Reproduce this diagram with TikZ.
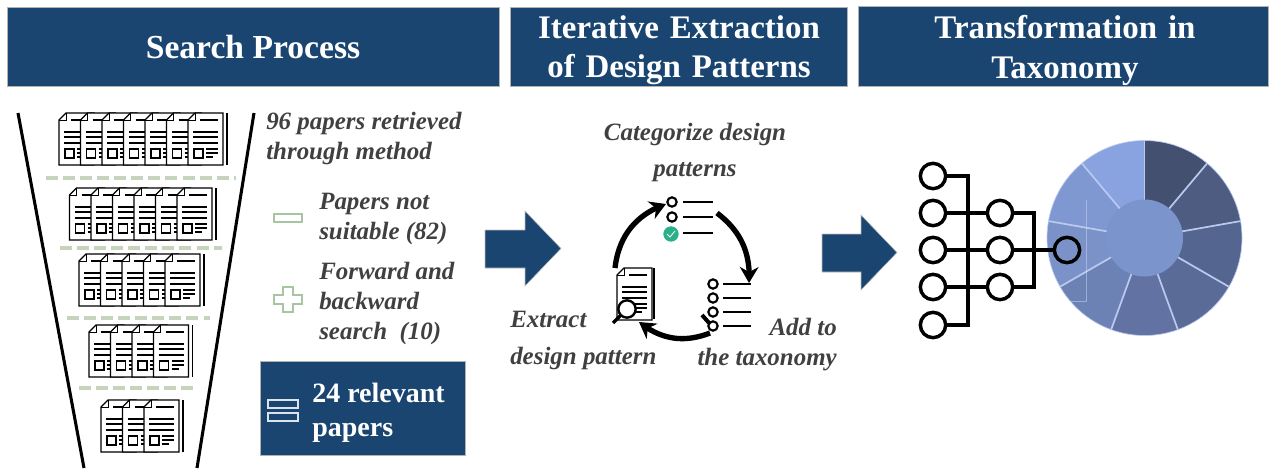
\documentclass[tikz,border=0pt]{standalone}
\usepackage{fontspec}
\setmainfont{Liberation Serif}
\usetikzlibrary{arrows.meta,bending}
\definecolor{hdr}{HTML}{1A4570}
\definecolor{txt}{HTML}{404040}
\definecolor{dashg}{HTML}{C5D5BC}
\definecolor{icong}{HTML}{A9C4A0}
\definecolor{sep}{HTML}{B9C9EF}
\definecolor{okg}{HTML}{2BAE8A}
\definecolor{hub}{HTML}{7B94CC}
\tikzset{
 x=0.75pt,y=-0.75pt,
 hdrbox/.style={fill=hdr,draw=gray!60,line width=0.5pt},
 hdrtext/.style={text=white,font=\bfseries\fontsize{24.7}{29.5}\selectfont,align=center,inner sep=0pt},
 lbl/.style={text=txt,font=\bfseries\itshape\fontsize{18.7}{22.5}\selectfont,align=left,anchor=west,inner sep=0pt},
 funnel/.style={line width=2.3pt},
 gdash/.style={draw=dashg,line width=3pt,dash pattern=on 9pt off 3.8pt},
 ticon/.style={draw=icong,line width=1pt,fill=white},
 bolt/.style={line width=2.6pt},
 ring/.style={circle,draw=black,line width=2.6pt,minimum size=19pt,inner sep=0pt},
 cyc/.style={line width=4pt,-{Stealth[length=12pt,width=14pt,flex]}},
 lst/.style={line width=1.7pt},
 dot/.style={circle,draw=black,line width=1.6pt,fill=white,minimum size=7pt,inner sep=0pt},
 blockarrow/.style={fill=hdr,draw=gray!50,line width=0.4pt},
 paper/.pic={
  \draw[fill=white,line width=1pt] (0,7)--(7,0)--(35,0)--(35,52)--(0,52)--cycle;
  \draw[line width=0.7pt] (7,0)--(7,7)--(0,7);
  \draw[line width=1pt] (12,7)--(30,7) (5,19)--(30,19) (5,24)--(30,24) (5,30)--(30,30)
    (18,36)--(30,36) (18,40)--(30,40) (18,44)--(25,44);
  \draw[line width=1pt] (6,36) rectangle (15,45);
 }
}
\newcommand{\papers}[4]{% x, y, count, name
 \foreach \i in {1,...,#3}{\pic at ({#1+(\i-1)*21.5},#2) {paper};}
 \draw[line width=1pt] ({#1+(#3-1)*21.5+39},#2)--({#1+(#3-1)*21.5+39},{#2+52});
}
\begin{document}
\begin{tikzpicture}
\useasboundingbox (0,0) rectangle (1271,468);
% headers
\path[hdrbox] (7,7) rectangle (499,86);
\path[hdrbox] (510,7) rectangle (847,86);
\path[hdrbox] (858,6) rectangle (1268,86);
\node[hdrtext,font=\bfseries\fontsize{25.2}{30}\selectfont] (h1) at (253,47.5) {Search Process};
\node[hdrtext,text width=330pt] (h2) at (679,50.5) {Iterative Extraction\\of Design Patterns};
\node[hdrtext,text width=300pt] (h3) at (1065,50.5) {Transformation in\\Taxonomy};
% funnel
\coordinate (fl1) at (18,113); \coordinate (fl2) at (84,468);
\coordinate (fr1) at (254,113); \coordinate (fr2) at (197,468);
\draw[funnel] (fl1)--(fl2);
\draw[funnel] (fr1)--(fr2);
% papers
\papers{59}{113}{7}{a}
\papers{69.5}{188}{6}{b}
\papers{79}{254}{5}{c}
\papers{89}{325}{4}{d}
\papers{101}{400}{3}{e}
% dashes
\draw[gdash] (46,178)--(236,178);
\draw[gdash] (60,248)--(222,248);
\draw[gdash] (67,318)--(210,318);
\draw[gdash] (79,388)--(197,388);
% labels
\node[lbl] (t1) at (266,139) {96 papers retrieved\\through method};
\node[lbl] (t2) at (319,218.5) {Papers not\\suitable (82)};
\node[lbl] (t3) at (319,303) {Forward and\\backward\\search~~(10)};
\path[ticon] (274,214) rectangle (302,222);
\path[ticon] (283,287)--(293,287)--(293,295)--(302,295)--(302,304)--(293,304)--(293,312)--(283,312)--(283,304)--(274,304)--(274,295)--(283,295)--cycle;
% result box
\path[fill=hdr,draw=gray!60,line width=0.5pt] (260,361) rectangle (465,455);
\node[text=white,font=\bfseries\fontsize{21}{25.5}\selectfont,align=left,anchor=west,inner sep=0pt] (t4) at (312,412.5) {24 relevant\\papers};
\draw[white!85!hdr,line width=1pt] (268,400) rectangle (298,408) (268,413) rectangle (298,421);
% block arrows
\path[blockarrow] (485,230)--(525,230)--(525,211)--(561,248.5)--(525,286)--(525,268)--(485,268)--cycle;
\path[blockarrow] (822,234)--(861,234)--(861,215)--(897,252.5)--(861,290)--(861,272)--(822,272)--cycle;
% cycle labels
\node[lbl,align=center,anchor=center,font=\bfseries\itshape\fontsize{18.7}{27}\selectfont] (t5) at (695,153) {Categorize design\\patterns};
\node[lbl,font=\bfseries\itshape\fontsize{18.7}{27.5}\selectfont] (t6) at (510,340.5) {Extract\\design pattern};
\node[lbl,align=right,anchor=east,font=\bfseries\itshape\fontsize{18.7}{23}\selectfont] (t7) at (837,344.5) {Add to\\the taxonomy};
% top list
\node[dot] (d1) at (672,202) {};
\node[dot] (d2) at (672,217) {};
\node[circle,fill=okg,minimum size=11.5pt,inner sep=0pt] (d3) at (671,234) {};
\draw[white,line width=0.6pt] (667,234)--(670,237)--(675,231);
\draw[lst] (683,202)--(713,202);
\draw[lst] (683,217)--(713,217);
\draw[lst] (683,233)--(713,233);
% right list
\node[dot] (r1) at (713,284) {};
\node[dot] (r2) at (713,298) {};
\node[dot] (r3) at (713,312) {};
\node[dot] (r4) at (713,326) {};
\draw[lst] (723,284)--(751,284);
\draw[lst] (723,298)--(751,298);
\draw[lst] (723,312)--(751,312);
\draw[lst] (723,326)--(751,326);
\draw[line width=3pt] (702,315)--(710,324);
% doc
\pic at (617,268) {paper};
\draw[line width=1pt] (654,268)--(654,319);
\draw[line width=2.6pt] (621,315)--(613,323);
\node[circle,draw=black,line width=1.8pt,fill=white,minimum size=13pt,inner sep=0pt] (mag) at (627,309) {};
% cycle arrows
\coordinate (c1s) at (615,268); \coordinate (c1e) at (666,204);
\coordinate (c2s) at (717,213); \coordinate (c2e) at (749,283);
\coordinate (c3s) at (710,333); \coordinate (c3e) at (639,322);
\draw[cyc] (c1s) to[bend left=32] (c1e);
\draw[cyc] (c2s) to[bend left=28] (c2e);
\draw[cyc] (c3s) to[bend left=30] (c3e);
% wheel
\foreach \a/\c in {90/44506F,50/4D5C80,10/54658F,-30/5A6B98,-70/6273A3,-110/6C81B4,-150/7A92C8,-190/7F98D2,-230/88A3DF}{
 \definecolor{segc}{HTML}{\c}
 \fill[segc] (1144.5,238) -- ++({97.5*cos(\a)},{-97.5*sin(\a)}) arc[start angle=-\a,end angle=-\a+40,radius=97.5] -- cycle;
}
\foreach \a in {90,50,10,-30,-70,-110,-150,-190,-230}{
 \draw[sep,line width=1.3pt] ({1144.5+38*cos(\a)},{238-38*sin(\a)})--({1144.5+97.5*cos(\a)},{238-97.5*sin(\a)});
}
\draw[sep,line width=0.5pt] (1144.5,238) circle[radius=97.5];
\fill[hub] (1144.5,238) circle[radius=38.5];
\draw[sep!70!white,opacity=0.5,line width=0.4pt] (1086,200)--(1086,301)--(1070,301);
% network
\node[ring,fill=white] (n1) at (933,176) {};
\node[ring,fill=white] (n2) at (933,213) {};
\node[ring,fill=white] (n3) at (933,250) {};
\node[ring,fill=white] (n4) at (933,287) {};
\node[ring,fill=white] (n5) at (933,325) {};
\node[ring,fill=white] (m1) at (1000,213) {};
\node[ring,fill=white] (m2) at (1000,250) {};
\node[ring,fill=white] (m3) at (1000,287) {};
\node[ring] (o1) at (1067,250) {};
\draw[bolt] (n1) -| (968,325) -- (n5);
\draw[bolt] (n2) -- (m1);
\draw[bolt] (n3) -- (m2);
\draw[bolt] (n4) -- (m3);
\draw[bolt] (m1) -| (1034,287) -- (m3);
\draw[bolt] (m2) -- (o1);
\end{tikzpicture}
\end{document}
